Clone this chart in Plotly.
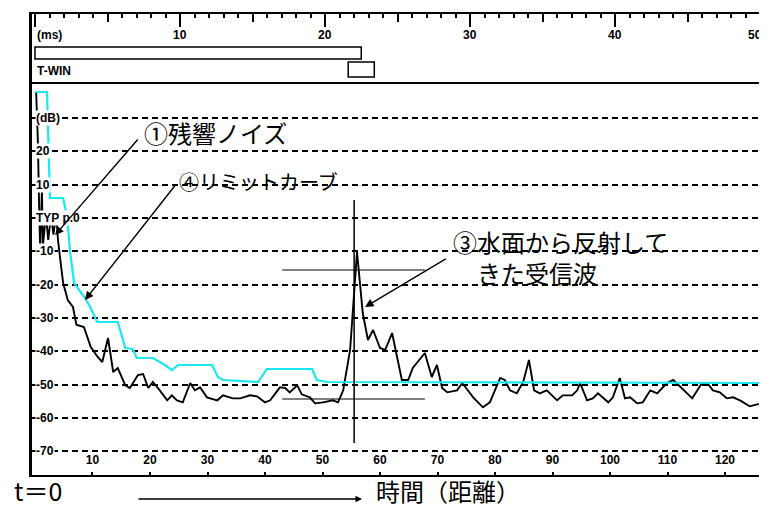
import plotly.graph_objects as go

# ---------------- data ----------------
# residual noise / received wave (black)
noise_dist = [0.2, 0.5, 0.7, 0.9, 1.2, 1.4, 1.9, 2.3, 2.8, 3.2, 3.7, 4.0, 4.5, 4.9, 5.7, 6.6, 7.2, 8.5, 9.7, 10.9,
              11.7, 12.7, 13.6, 14.4, 15.7, 16.5, 17.9, 18.8, 19.7, 20.5, 21.7, 23.0, 23.8, 24.7, 25.7, 27.0, 27.8,
              28.7, 29.9, 31.7, 32.7, 34.4, 35.7, 37.4, 38.6, 40.0, 40.9, 42.6, 43.5, 44.3, 45.6, 46.4, 47.8, 48.7,
              50.1, 51.8, 52.7, 53.6, 54.8, 56.0, 57.0, 57.9, 58.8, 60.0, 60.9, 62.1, 63.8, 64.9, 65.7, 67.8, 69.0,
              69.9, 70.8, 71.7, 73.4, 74.3, 76.2, 77.9, 79.1, 80.9, 81.7, 82.6, 83.8, 84.9, 85.9, 86.8, 87.8, 89.0,
              90.8, 91.8, 93.4, 94.3, 94.8, 96.0, 97.0, 97.9, 99.7, 100.5, 101.7, 102.6, 103.5, 104.7, 105.7, 107.0,
              108.2, 109.9, 111.0, 112.5, 114.3, 116.0, 116.9, 117.9, 119.1, 120.3, 121.4, 122.6, 124.3, 125.6, 127.3]
noise_db = [37.8, 23, 5, -10, 8, -8, 1, -6.6, 1, -5, 1, -6.6, -14, -19.5, -24.6, -26.7, -32, -32.7, -38.7, -41.7,
            -43.2, -36, -46.2, -45, -50.2, -51, -47.1, -46.8, -51, -49.2, -51.7, -54.7, -53.2, -54.7, -55.3, -49.5,
            -51.7, -50.8, -53.8, -54.7, -53.2, -54.1, -54.1, -53.2, -53.5, -55.3, -54.7, -50.8, -51, -52.3, -50.2,
            -52.9, -53.8, -55.6, -55.3, -54.7, -55.3, -51.7, -39.6, -10.2, -28.5, -36.6, -33.6, -39, -39.6, -34.5,
            -48.6, -48.6, -45, -40.5, -47.7, -44.1, -51, -52.3, -51.7, -49.5, -53.8, -56.8, -55.3, -48.0, -48.6,
            -51.7, -52.6, -49.2, -42.6, -51.7, -52.6, -51.7, -54.7, -53.2, -53.2, -51.7, -49.5, -54.7, -54.1, -52.6,
            -55.3, -53.8, -48.0, -54.1, -53.8, -55.6, -55.3, -51.7, -52.6, -49.5, -48.6, -51, -54.1, -49.5, -49.5,
            -51.7, -52.3, -54.1, -53.8, -54.7, -56.5, -55.9, -55.6]

# limit curve (cyan)
limit_dist = [0, 2.1, 2.6, 4.9, 5.6, 6.1, 6.8, 8.7, 9.6, 10.8, 14.4, 15.7, 17.0, 17.7, 20.5, 22.6, 23.8, 24.9,
              30.8, 31.8, 32.7, 38.8, 40.3, 48.2, 49.0, 50.8, 127.3]
limit_db = [37.8, 37.8, 6.0, 6.0, 0, -9.9, -19.5, -24, -26.7, -31.2, -31.2, -39, -39.3, -42, -42, -44.1, -45.6,
            -44.1, -44.1, -47.7, -48.6, -49.2, -45.3, -45.3, -48.6, -49.2, -49.5]

# axes / tick labels
dist_ticks = [10, 20, 30, 40, 50, 60, 70, 80, 90, 100, 110, 120]
dist_labels = ["10", "20", "30", "40", "50", "60", "70", "80", "90", "100", "110", "120"]
db_ticks = [30, 20, 10, 0, -10, -20, -30, -40, -50, -60, -70]
db_labels = ["(dB)", "20", "10", "TYP p.0", "-10", "-20", "-30", "-40", "-50", "-60", "-70"]
ms_ticks = [10, 20, 30, 40, 50]
ms_labels = ["10", "20", "30", "40", "50"]

# time-window markers (ms)
gate_bar = [0, 22.5]
twin_box = [21.6, 23.4]

# marker lines on the echo (distance, dB)
echo_vline_x = 55.5
echo_vline_y = [-67.5, 5.4]
echo_hline_x = [43.0, 67.8]
echo_hline_y_top = -15.6
echo_hline_y_low = -54.3

# ---------------- figure ----------------
# page body has an 8px margin; figure is sized to fill the rest of the window
OFF = 8
W, H = 767 - OFF, 510 - OFF
def fx(p):
    return (p - OFF) / W
def fy(p):
    return 1 - (p - OFF) / H

JP = "Noto Sans CJK JP"
LAB = dict(family="Liberation Sans", size=12, color="black")

fig = go.Figure()
fig.add_trace(go.Scatter(x=noise_dist, y=noise_db, mode="lines",
                         line=dict(color="black", width=1.9), showlegend=False, hoverinfo="skip"))
fig.add_trace(go.Scatter(x=limit_dist, y=limit_db, mode="lines",
                         line=dict(color="#1AE8F0", width=2.2), showlegend=False, hoverinfo="skip"))
# empty traces to bind top axes
for xa in ["x2", "x3", "x4"]:
    fig.add_trace(go.Scatter(x=[None], y=[None], xaxis=xa, yaxis="y2", showlegend=False, hoverinfo="skip"))

dom_x = [fx(32), 1.0]
ms_range = [(32 - 35) / 14.5, (767 - 35) / 14.5]

fig.update_layout(
    width=W, height=H, margin=dict(l=0, r=0, t=0, b=0),
    paper_bgcolor="white", plot_bgcolor="white", showlegend=False,
    xaxis=dict(domain=dom_x, range=[-0.52, 127.3], anchor="y", showgrid=False, zeroline=False,
               showline=True, linecolor="black", linewidth=1.5, mirror=True,
               tickmode="array", tickvals=dist_ticks, ticktext=["<b>%s</b>" % t for t in dist_labels],
               ticks="inside", ticklen=3, tickwidth=1.5, tickcolor="black",
               ticklabelposition="inside", ticklabelstandoff=5, tickfont=LAB),
    yaxis=dict(domain=[fy(475), fy(84)], range=[-77.1, 40.2], anchor="x",
               showgrid=True, gridcolor="black", gridwidth=1.5, griddash="6px,4px",
               tickmode="array", tickvals=db_ticks, showticklabels=False,
               ticks="inside", ticklen=5, tickwidth=1.5, tickcolor="black",
               showline=True, linecolor="black", linewidth=3, zeroline=False),
    yaxis2=dict(domain=[fy(84), fy(14)], range=[0, 1], anchor="x2", showgrid=False, zeroline=False,
                showticklabels=False, showline=True, linecolor="black", linewidth=3),
    xaxis2=dict(domain=dom_x, range=ms_range, anchor="y2", side="top", showgrid=False, zeroline=False,
                tickmode="linear", tick0=0, dtick=1, ticks="inside", ticklen=4, tickwidth=1.5,
                tickcolor="black", showticklabels=False, showline=True, linecolor="black", linewidth=2),
    xaxis3=dict(domain=dom_x, range=ms_range, anchor="y2", overlaying="x2", side="top", showgrid=False,
                zeroline=False, tickmode="linear", tick0=0, dtick=5, ticks="inside", ticklen=8,
                tickwidth=1.5, tickcolor="black", showticklabels=False, showline=False),
    xaxis4=dict(domain=dom_x, range=ms_range, anchor="y2", overlaying="x2", side="top", showgrid=False,
                zeroline=False, tickmode="linear", tick0=0, dtick=10, ticks="inside", ticklen=13,
                tickwidth=1.5, tickcolor="black", showticklabels=False, showline=False),
)

# top panel shapes
fig.add_shape(type="rect", xref="x2", yref="y2", x0=gate_bar[0], x1=gate_bar[1], y0=0.357, y1=0.529,
              line=dict(color="black", width=1.5))
fig.add_shape(type="rect", xref="x2", yref="y2", x0=twin_box[0], x1=twin_box[1], y0=0.10, y1=0.314,
              line=dict(color="black", width=1.5))
# echo marker lines
fig.add_shape(type="line", xref="x", yref="y", x0=echo_vline_x, x1=echo_vline_x,
              y0=echo_vline_y[0], y1=echo_vline_y[1], line=dict(color="black", width=1.5))
fig.add_shape(type="line", xref="x", yref="y", x0=echo_hline_x[0], x1=echo_hline_x[1],
              y0=echo_hline_y_top, y1=echo_hline_y_top, line=dict(color="black", width=1.2))
fig.add_shape(type="line", xref="x", yref="y", x0=echo_hline_x[0], x1=echo_hline_x[1],
              y0=echo_hline_y_low, y1=echo_hline_y_low, line=dict(color="black", width=1.2))

# top panel labels
fig.add_annotation(xref="x2", yref="y2", x=0, y=0.7, xanchor="left", yanchor="middle",
                   text="<b>(ms)</b>", showarrow=False, font=LAB)
for v, t in zip(ms_ticks, ms_labels):
    last = v == ms_ticks[-1]
    fig.add_annotation(xref="x2", yref="y2", x=v, y=0.7, xanchor="center", yanchor="middle",
                       xshift=-5 if last else 0,
                       text="<b>%s</b>" % t, showarrow=False, font=LAB)
fig.add_annotation(xref="x2", yref="y2", x=0, y=0.186, xanchor="left", yanchor="middle",
                   text="<b>T-WIN</b>", showarrow=False, font=LAB)

# y labels (inside)
for v, t in zip(db_ticks, db_labels):
    fig.add_annotation(xref="x", yref="y", x=0.0, y=v, xanchor="left", yanchor="middle",
                       text="<b>%s</b>" % t, showarrow=False, font=LAB, bgcolor="white", borderpad=0)

# callout arrows
arrows = [((3.5, -5.1), (18.1, 24.0)), ((8.7, -24.6), (24.7, 10.5)), ((57.4, -26.7), (71.7, -12.0))]
for (hx, hy), (tx, ty) in arrows:
    fig.add_annotation(xref="x", yref="y", axref="x", ayref="y", x=hx, y=hy, ax=tx, ay=ty, text="",
                       showarrow=True, arrowhead=2, arrowsize=1.2, arrowwidth=1.4, arrowcolor="black")

JPF = dict(family=JP, size=24, color="black")
fig.add_annotation(xref="x", yref="y", x=18.6, y=25.5, xanchor="left", yanchor="middle",
                   text="①残響ノイズ", showarrow=False, font=JPF)
fig.add_annotation(xref="x", yref="y", x=24.7, y=11.1, xanchor="left", yanchor="middle",
                   text="④リミットカーブ", showarrow=False, font=dict(family=JP, size=20, color="black"))
fig.add_annotation(xref="x", yref="y", x=72.4, y=-11.7, xanchor="left", yanchor="middle", align="left",
                   text="③水面から反射して<br>\u3000きた受信波", showarrow=False, font=JPF)

# bottom caption
fig.add_annotation(xref="paper", yref="paper", x=fx(12), y=0, xanchor="left", yanchor="bottom",
                   text="t＝0", showarrow=False, font=dict(family=JP, size=25, color="black"))
fig.add_annotation(xref="paper", yref="paper", x=fx(362), y=fy(499), ax=-225, ay=0, text="",
                   showarrow=True, arrowhead=2, arrowsize=1, arrowwidth=1.3, arrowcolor="black")
fig.add_annotation(xref="paper", yref="paper", x=fx(374), y=0, xanchor="left", yanchor="bottom",
                   text="時間（距離）", showarrow=False, font=dict(family=JP, size=24, color="black"))

fig.write_html("out.html")
